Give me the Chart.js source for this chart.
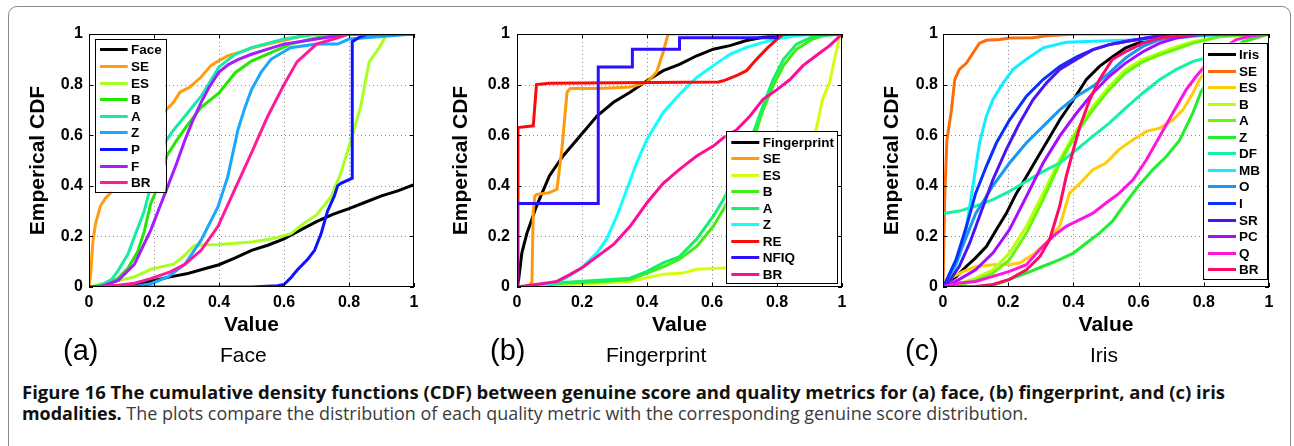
<!DOCTYPE html>
<html>
<head>
<meta charset="utf-8">
<script src="https://cdn.jsdelivr.net/npm/chart.js@4.4.0/dist/chart.umd.min.js"></script>
<style>
html, body { margin: 0; padding: 0; background: #fff; }
body { width: 1294px; height: 446px; position: relative; overflow: hidden; font-family: 'Liberation Sans', Arial, sans-serif; }
.frame { position: absolute; left: 8px; top: 6px; width: 1283px; height: 480px; border: 1px solid #8a8a8a; border-radius: 9px; box-sizing: border-box; }
.panel { position: absolute; top: 0; height: 345px; }
.tag { position: absolute; font-size: 29px; line-height: 29px; color: #000; white-space: nowrap; }
.name { position: absolute; font-size: 21px; line-height: 21px; color: #000; white-space: nowrap; }
.cap { position: absolute; left: 22px; font-family: 'Open Sans', 'Noto Sans', sans-serif; font-size: 17.5px; line-height: 17.5px; white-space: nowrap; transform-origin: 0 0; }
.cap b { font-weight: 700; color: #111; }
.cap span { color: #3a3a3a; }
</style>
</head>
<body>
<div class="frame"></div>
<div class="panel" style="left:0;width:430px"><canvas id="chartFace"></canvas></div>
<div class="panel" style="left:430px;width:430px"><canvas id="chartFinger"></canvas></div>
<div class="panel" style="left:860px;width:434px"><canvas id="chartIris"></canvas></div>

<div class="tag" style="left:63px;top:336px">(a)</div>
<div class="name" id="nameA" style="top:344px">Face</div>
<div class="tag" style="left:490px;top:336px">(b)</div>
<div class="name" id="nameB" style="top:344px">Fingerprint</div>
<div class="tag" style="left:905px;top:336px">(c)</div>
<div class="name" id="nameC" style="top:344px">Iris</div>

<div class="cap" id="cap1" style="top:384px"><b>Figure 16 The cumulative density functions (CDF) between genuine score and quality metrics for (a) face, (b) fingerprint, and (c) iris</b></div>
<div class="cap" id="cap2" style="top:405px"><b>modalities.</b><span> The plots compare the distribution of each quality metric with the corresponding genuine score distribution.</span></div>

<script>
// axis ticks shared by every panel
const tickValues = [0, 0.2, 0.4, 0.6, 0.8, 1];

// (a) Face - [value, cdf] pairs
const faceLabels = ['Face', 'SE', 'ES', 'B', 'A', 'Z', 'P', 'F', 'BR'];
const faceColors = ['#000000', '#ff9c12', '#aaff22', '#22e800', '#14eca8', '#18a8ff', '#0a14ff', '#a61cff', '#ff1a9c'];
const faceCurve = [[0,0],[0.05,0.002],[0.1,0.006],[0.15,0.013],[0.2,0.026],[0.25,0.04],[0.3,0.052],[0.35,0.07],[0.4,0.088],[0.45,0.115],[0.5,0.145],[0.55,0.165],[0.6,0.19],[0.65,0.225],[0.7,0.258],[0.75,0.287],[0.8,0.31],[0.85,0.335],[0.9,0.36],[0.95,0.38],[1,0.405]];
const faceSE = [[0,0],[0.005,0.05],[0.012,0.18],[0.02,0.25],[0.035,0.32],[0.05,0.35],[0.065,0.37],[0.08,0.4],[0.12,0.5],[0.16,0.58],[0.2,0.65],[0.23,0.69],[0.26,0.73],[0.28,0.77],[0.31,0.79],[0.345,0.83],[0.375,0.875],[0.4,0.895],[0.43,0.915],[0.47,0.93],[0.5,0.945],[0.55,0.96],[0.6,0.975],[0.65,0.99],[0.7,1],[1,1]];
const faceES = [[0,0],[0.03,0.01],[0.09,0.026],[0.14,0.04],[0.19,0.07],[0.26,0.09],[0.29,0.12],[0.325,0.165],[0.4,0.168],[0.5,0.178],[0.56,0.19],[0.62,0.21],[0.66,0.25],[0.7,0.285],[0.745,0.357],[0.775,0.45],[0.806,0.58],[0.836,0.714],[0.862,0.89],[0.89,0.94],[0.913,0.99],[0.93,1],[1,1]];
const faceB = [[0,0],[0.03,0.003],[0.06,0.012],[0.09,0.035],[0.12,0.075],[0.15,0.14],[0.17,0.22],[0.19,0.33],[0.21,0.39],[0.24,0.52],[0.27,0.58],[0.3,0.635],[0.345,0.71],[0.4,0.767],[0.45,0.847],[0.5,0.893],[0.56,0.926],[0.62,0.96],[0.7,0.985],[0.8,1],[1,1]];
const faceA = [[0,0],[0.02,0.003],[0.04,0.01],[0.07,0.03],[0.09,0.066],[0.12,0.13],[0.14,0.2],[0.17,0.3],[0.19,0.4],[0.21,0.48],[0.233,0.57],[0.26,0.62],[0.295,0.675],[0.345,0.754],[0.4,0.87],[0.45,0.92],[0.5,0.946],[0.6,0.98],[0.7,1],[1,1]];
const faceZ = [[0,0],[0.1,0.001],[0.15,0.004],[0.19,0.013],[0.243,0.04],[0.295,0.09],[0.345,0.185],[0.397,0.317],[0.427,0.436],[0.458,0.62],[0.48,0.71],[0.5,0.78],[0.53,0.85],[0.56,0.9],[0.62,0.946],[0.7,0.96],[0.765,0.96],[0.8,0.98],[0.9,0.99],[1,1]];
const faceP = [[0,0],[0.5,0],[0.58,0.005],[0.6,0.01],[0.62,0.035],[0.64,0.066],[0.673,0.11],[0.694,0.145],[0.714,0.21],[0.734,0.3],[0.755,0.36],[0.765,0.4],[0.775,0.41],[0.81,0.43],[0.81,0.97],[0.836,0.99],[0.86,1],[1,1]];
const faceF = [[0,0],[0.04,0.003],[0.09,0.026],[0.14,0.09],[0.19,0.225],[0.243,0.4],[0.27,0.49],[0.295,0.58],[0.32,0.66],[0.345,0.73],[0.37,0.79],[0.4,0.85],[0.43,0.88],[0.46,0.9],[0.5,0.92],[0.55,0.94],[0.6,0.96],[0.7,0.98],[0.8,1],[1,1]];
const faceBR = [[0,0],[0.09,0.007],[0.14,0.015],[0.19,0.033],[0.25,0.06],[0.295,0.09],[0.345,0.145],[0.397,0.24],[0.448,0.384],[0.5,0.53],[0.55,0.675],[0.6,0.8],[0.64,0.89],[0.7,0.96],[0.765,0.985],[0.8,1],[1,1]];

// (b) Fingerprint
const fpLabels = ['Fingerprint', 'SE', 'ES', 'B', 'A', 'Z', 'RE', 'NFIQ', 'BR'];
const fpColors = ['#000000', '#ff9a08', '#d2ff10', '#44ec14', '#14f06a', '#10ffff', '#ff0a0a', '#2a10ff', '#ff0c98'];
const fpCurve = [[0,0],[0.005,0.03],[0.015,0.135],[0.03,0.21],[0.06,0.32],[0.1,0.44],[0.143,0.52],[0.194,0.597],[0.246,0.676],[0.297,0.73],[0.348,0.77],[0.4,0.815],[0.45,0.855],[0.5,0.88],[0.553,0.914],[0.604,0.94],[0.655,0.954],[0.706,0.974],[0.757,0.987],[0.81,0.996],[0.85,1],[1,1]];
const fpSE = [[0,0],[0.036,0.003],[0.046,0.02],[0.05,0.3],[0.055,0.36],[0.061,0.366],[0.1,0.373],[0.123,0.386],[0.138,0.544],[0.154,0.77],[0.164,0.785],[0.246,0.785],[0.348,0.79],[0.4,0.81],[0.43,0.85],[0.45,0.93],[0.465,1],[1,1]];
const fpES = [[0,0],[0.04,0.001],[0.143,0.01],[0.246,0.014],[0.348,0.022],[0.45,0.05],[0.51,0.055],[0.553,0.07],[0.635,0.075],[0.7,0.09],[0.8,0.14],[0.87,0.25],[0.9,0.45],[0.92,0.62],[0.94,0.74],[0.962,0.81],[0.977,0.9],[0.993,0.99],[1,1]];
const fpB = [[0,0],[0.04,0.001],[0.143,0.016],[0.246,0.02],[0.348,0.03],[0.4,0.055],[0.45,0.08],[0.5,0.11],[0.553,0.16],[0.604,0.24],[0.635,0.306],[0.68,0.42],[0.737,0.62],[0.757,0.7],[0.788,0.795],[0.82,0.875],[0.86,0.94],[0.91,0.98],[0.95,0.996],[1,1]];
const fpA = [[0,0],[0.04,0.001],[0.143,0.018],[0.348,0.035],[0.4,0.062],[0.45,0.095],[0.5,0.12],[0.553,0.19],[0.604,0.28],[0.635,0.346],[0.68,0.46],[0.73,0.62],[0.757,0.716],[0.788,0.82],[0.82,0.9],[0.86,0.96],[0.91,0.99],[1,1]];
const fpZ = [[0,0],[0.04,0],[0.092,0.01],[0.143,0.03],[0.194,0.07],[0.246,0.135],[0.276,0.19],[0.307,0.28],[0.338,0.386],[0.368,0.49],[0.4,0.584],[0.45,0.69],[0.5,0.762],[0.553,0.828],[0.604,0.875],[0.655,0.92],[0.706,0.947],[0.757,0.967],[0.81,0.983],[0.86,0.993],[0.92,1],[1,1]];
const fpRE = [[0,0],[0.003,0.63],[0.05,0.637],[0.06,0.8],[0.1,0.805],[0.62,0.81],[0.635,0.815],[0.675,0.835],[0.706,0.855],[0.737,0.9],[0.767,0.94],[0.8,0.98],[0.82,1],[1,1]];
const fpNFIQ = [[0,0],[0,0.33],[0.25,0.33],[0.25,0.87],[0.355,0.87],[0.355,0.94],[0.5,0.94],[0.5,0.985],[0.8,0.985],[0.8,1],[1,1]];
const fpBR = [[0,0],[0.04,0.007],[0.092,0.016],[0.123,0.022],[0.164,0.05],[0.205,0.08],[0.246,0.12],[0.297,0.168],[0.348,0.24],[0.4,0.333],[0.45,0.41],[0.5,0.465],[0.553,0.518],[0.604,0.557],[0.635,0.59],[0.675,0.62],[0.717,0.676],[0.757,0.742],[0.8,0.78],[0.84,0.82],[0.88,0.875],[0.92,0.914],[0.962,0.954],[1,1]];

// (c) Iris
const irisLabels = ['Iris', 'SE', 'ES', 'B', 'A', 'Z', 'DF', 'MB', 'O', 'I', 'SR', 'PC', 'Q', 'BR'];
const irisColors = ['#000000', '#ff6a0a', '#ffcc0a', '#b8ff0a', '#66f80a', '#22ee30', '#14f4a0', '#10eeff', '#1898f4', '#0a30ff', '#4a14f4', '#a80cff', '#ff14e0', '#ff0a66'];
const irisCurve = [[0,0],[0.01,0.016],[0.04,0.04],[0.072,0.082],[0.1,0.115],[0.133,0.16],[0.164,0.227],[0.194,0.29],[0.225,0.37],[0.256,0.437],[0.286,0.503],[0.317,0.57],[0.358,0.66],[0.4,0.74],[0.44,0.82],[0.48,0.872],[0.52,0.91],[0.56,0.945],[0.6,0.965],[0.644,0.984],[0.685,0.993],[0.75,1],[1,1]];
const irisSE = [[0,0],[0.005,0.345],[0.012,0.58],[0.026,0.7],[0.036,0.82],[0.05,0.86],[0.072,0.885],[0.092,0.925],[0.112,0.964],[0.133,0.975],[0.174,0.978],[0.204,0.984],[0.276,0.985],[0.317,0.993],[0.41,1],[1,1]];
const irisES = [[0,0],[0.03,0.04],[0.06,0.06],[0.1,0.08],[0.153,0.088],[0.204,0.089],[0.235,0.095],[0.276,0.128],[0.317,0.174],[0.358,0.24],[0.388,0.37],[0.42,0.41],[0.46,0.464],[0.5,0.49],[0.54,0.543],[0.583,0.582],[0.624,0.615],[0.665,0.628],[0.705,0.66],[0.736,0.7],[0.767,0.767],[0.787,0.82],[0.85,0.93],[0.95,0.98],[1,1]];
const irisB = [[0,0],[0.03,0.005],[0.1,0.035],[0.153,0.068],[0.204,0.134],[0.256,0.24],[0.307,0.37],[0.358,0.503],[0.41,0.62],[0.46,0.714],[0.51,0.793],[0.56,0.86],[0.613,0.9],[0.665,0.925],[0.716,0.95],[0.767,0.97],[0.85,0.99],[1,1]];
const irisA = [[0,0],[0.05,0.008],[0.1,0.025],[0.153,0.055],[0.204,0.108],[0.256,0.213],[0.307,0.345],[0.358,0.49],[0.41,0.61],[0.46,0.7],[0.51,0.78],[0.56,0.846],[0.613,0.89],[0.665,0.918],[0.716,0.94],[0.767,0.964],[0.85,0.99],[1,1]];
const irisZ = [[0,0],[0.133,0],[0.174,0.016],[0.204,0.03],[0.256,0.055],[0.307,0.082],[0.358,0.108],[0.4,0.134],[0.44,0.174],[0.48,0.213],[0.52,0.26],[0.56,0.332],[0.6,0.4],[0.644,0.464],[0.685,0.516],[0.726,0.58],[0.767,0.69],[0.79,0.767],[0.85,0.9],[0.92,0.97],[1,1]];
const irisDF = [[0,0.29],[0.05,0.3],[0.1,0.32],[0.153,0.345],[0.204,0.378],[0.256,0.418],[0.307,0.457],[0.358,0.49],[0.41,0.543],[0.46,0.596],[0.51,0.648],[0.56,0.707],[0.613,0.767],[0.665,0.82],[0.716,0.86],[0.767,0.892],[0.85,0.92],[0.92,0.94],[1,0.96]];
const irisMB = [[0,0],[0.005,0.01],[0.03,0.055],[0.05,0.12],[0.072,0.24],[0.092,0.4],[0.112,0.57],[0.133,0.675],[0.153,0.74],[0.184,0.806],[0.215,0.86],[0.256,0.9],[0.307,0.945],[0.378,0.967],[0.46,0.971],[0.56,0.975],[0.665,0.98],[0.767,0.99],[0.85,1],[1,1]];
const irisO = [[0,0],[0.005,0.01],[0.04,0.095],[0.072,0.2],[0.1,0.29],[0.153,0.4],[0.204,0.49],[0.256,0.57],[0.307,0.635],[0.358,0.7],[0.41,0.754],[0.46,0.793],[0.51,0.846],[0.56,0.905],[0.613,0.951],[0.665,0.978],[0.75,0.995],[1,1]];
const irisI = [[0,0],[0.005,0.01],[0.04,0.108],[0.072,0.24],[0.1,0.37],[0.133,0.477],[0.164,0.57],[0.204,0.66],[0.256,0.754],[0.307,0.82],[0.358,0.872],[0.41,0.91],[0.46,0.938],[0.51,0.958],[0.56,0.97],[0.624,0.984],[0.7,1],[1,1]];
const irisSR = [[0,0],[0.01,0.005],[0.05,0.082],[0.082,0.174],[0.112,0.28],[0.153,0.424],[0.194,0.543],[0.235,0.648],[0.276,0.74],[0.317,0.806],[0.358,0.86],[0.41,0.9],[0.46,0.938],[0.51,0.958],[0.56,0.97],[0.624,0.984],[0.7,1],[1,1]];
const irisPC = [[0,0],[0.01,0.003],[0.05,0.03],[0.1,0.068],[0.153,0.134],[0.204,0.227],[0.256,0.358],[0.307,0.49],[0.358,0.596],[0.41,0.688],[0.46,0.767],[0.51,0.833],[0.56,0.885],[0.613,0.93],[0.665,0.964],[0.716,0.984],[0.8,1],[1,1]];
const irisQ = [[0,0],[0.01,0.005],[0.05,0.016],[0.1,0.022],[0.153,0.042],[0.204,0.062],[0.256,0.088],[0.297,0.148],[0.337,0.2],[0.378,0.24],[0.42,0.266],[0.46,0.292],[0.5,0.332],[0.54,0.37],[0.583,0.424],[0.624,0.503],[0.665,0.596],[0.705,0.688],[0.746,0.78],[0.777,0.833],[0.84,0.93],[0.9,0.978],[0.95,0.993],[1,1]];
const irisBR = [[0,0],[0.1,0.002],[0.153,0.01],[0.204,0.03],[0.256,0.068],[0.297,0.12],[0.327,0.187],[0.358,0.32],[0.378,0.437],[0.4,0.543],[0.42,0.635],[0.45,0.74],[0.48,0.82],[0.52,0.9],[0.56,0.93],[0.613,0.964],[0.665,0.984],[0.716,0.993],[0.8,1],[1,1]];

const faceSeries = [faceCurve, faceSE, faceES, faceB, faceA, faceZ, faceP, faceF, faceBR];
const fpSeries = [fpCurve, fpSE, fpES, fpB, fpA, fpZ, fpRE, fpNFIQ, fpBR];
const irisSeries = [irisCurve, irisSE, irisES, irisB, irisA, irisZ, irisDF, irisMB, irisO, irisI, irisSR, irisPC, irisQ, irisBR];

const FONT = "'Liberation Sans', Arial, sans-serif";

// dotted grid, boxed axes with inward ticks, and the boxed legend (matlab look)
const matlabAxes = {
    id: 'matlabAxes',
    beforeDatasetsDraw(chart) {
        const {ctx, chartArea: a, scales: {x, y}} = chart;
        ctx.save();
        ctx.strokeStyle = '#8c8c8c';
        ctx.lineWidth = 1;
        ctx.setLineDash([1, 3]);
        tickValues.slice(1, -1).forEach(v => {
            const px = Math.round(x.getPixelForValue(v)) + 0.5;
            const py = Math.round(y.getPixelForValue(v)) + 0.5;
            ctx.beginPath();
            ctx.moveTo(px, a.top); ctx.lineTo(px, a.bottom);
            ctx.moveTo(a.left, py); ctx.lineTo(a.right, py);
            ctx.stroke();
        });
        ctx.restore();
    },
    afterDatasetsDraw(chart) {
        const {ctx, chartArea: a, scales: {x, y}} = chart;
        ctx.save();
        ctx.strokeStyle = '#000';
        ctx.lineWidth = 1;
        ctx.strokeRect(Math.round(a.left) + 0.5, Math.round(a.top) + 0.5, Math.round(a.width) - 1, Math.round(a.height) - 1);
        ctx.beginPath();
        tickValues.forEach(v => {
            const px = Math.round(x.getPixelForValue(v)) + 0.5;
            const py = Math.round(y.getPixelForValue(v)) + 0.5;
            ctx.moveTo(px, a.bottom); ctx.lineTo(px, a.bottom - 4);
            ctx.moveTo(px, a.top); ctx.lineTo(px, a.top + 4);
            ctx.moveTo(a.left, py); ctx.lineTo(a.left + 4, py);
            ctx.moveTo(a.right, py); ctx.lineTo(a.right - 4, py);
        });
        ctx.stroke();
        ctx.restore();
    },
    afterDraw(chart, args, opts) {
        const {ctx, chartArea: a} = chart;
        const L = opts.legend;
        if (!L) return;
        // box position is relative to the plot area, row contents relative to the box
        const bx = a.left + L.x, by = a.top + L.y;
        ctx.save();
        ctx.fillStyle = '#fff';
        ctx.fillRect(bx, by, L.w, L.h);
        ctx.strokeStyle = '#000';
        ctx.lineWidth = 1;
        ctx.strokeRect(Math.round(bx) + 0.5, Math.round(by) + 0.5, Math.round(L.w), Math.round(L.h));
        ctx.font = 'bold 13.5px ' + FONT;
        ctx.textBaseline = 'middle';
        ctx.textAlign = 'left';
        chart.data.datasets.forEach((ds, i) => {
            const ry = Math.round(by + L.first + i * L.row) + 0.5;
            ctx.strokeStyle = ds.borderColor;
            ctx.lineWidth = 3;
            ctx.beginPath();
            ctx.moveTo(bx + L.line0, ry);
            ctx.lineTo(bx + L.line1, ry);
            ctx.stroke();
            ctx.fillStyle = '#000';
            ctx.fillText(ds.label, bx + L.text, ry + 0.5);
        });
        ctx.restore();
    }
};

function makePanel(canvasId, labels, colors, series, layout) {
    const datasets = series.map((s, i) => ({
        label: labels[i],
        data: s.map(p => ({x: p[0], y: p[1]})),
        borderColor: colors[i],
        backgroundColor: colors[i],
        borderWidth: 3,
        pointRadius: 0,
        tension: 0,
        fill: false,
        order: -i
    }));
    const tickFmt = v => String(Math.round(v * 10) / 10);
    return new Chart(document.getElementById(canvasId), {
        type: 'line',
        data: {datasets},
        plugins: [matlabAxes],
        options: {
            responsive: true,
            maintainAspectRatio: false,
            animation: false,
            events: [],
            layout: {padding: {top: 34, right: layout.padRight, bottom: 0, left: 0}},
            plugins: {
                legend: {display: false},
                tooltip: {enabled: false},
                matlabAxes: {legend: layout.legend}
            },
            scales: {
                x: {
                    type: 'linear', min: 0, max: 1,
                    grid: {display: false, drawTicks: false},
                    border: {display: false},
                    afterBuildTicks: s => { s.ticks = tickValues.map(v => ({value: v})); },
                    afterFit: s => { s.height = 58; },
                    ticks: {
                        padding: 6, maxRotation: 0, autoSkip: false, color: '#000',
                        font: {family: FONT, size: 16, weight: 'bold'},
                        callback: tickFmt
                    },
                    title: {
                        display: true, text: 'Value', color: '#000',
                        font: {family: FONT, size: 21, weight: 'bold'},
                        padding: {top: 0, bottom: 7}
                    }
                },
                y: {
                    type: 'linear', min: 0, max: 1,
                    grid: {display: false, drawTicks: false},
                    border: {display: false},
                    afterBuildTicks: s => { s.ticks = tickValues.map(v => ({value: v})); },
                    afterFit: s => { s.width = layout.axisWidth; },
                    ticks: {
                        padding: layout.tickPad, autoSkip: false, color: '#000',
                        font: {family: FONT, size: 16, weight: 'bold'},
                        callback: tickFmt
                    },
                    title: {
                        display: true, text: 'Emperical CDF', color: '#000',
                        font: {family: FONT, size: 21, weight: 'bold'},
                        padding: {top: layout.titlePad, bottom: 0}
                    }
                }
            }
        }
    });
}

makePanel('chartFace', faceLabels, faceColors, faceSeries, {
    axisWidth: 89, padRight: 16, tickPad: 6, titlePad: 25.4,
    legend: {x: 5.7, y: 5, w: 70.6, h: 152.7, first: 10.3, row: 16.6, line0: 5.3, line1: 33, text: 36.3}
});
makePanel('chartFinger', fpLabels, fpColors, fpSeries, {
    axisWidth: 87, padRight: 18, tickPad: 7, titlePad: 19.1,
    legend: {x: 208.7, y: 97, w: 111.3, h: 151.7, first: 10.7, row: 16.5, line0: 5.6, line1: 33.6, text: 37}
});
makePanel('chartIris', irisLabels, irisColors, irisSeries, {
    axisWidth: 83, padRight: 25, tickPad: 5, titlePad: 19.4,
    legend: {x: 259.7, y: 8.7, w: 64, h: 235.6, first: 11.3, row: 16.56, line0: 5.3, line1: 33.3, text: 36.3}
});

// centre the panel names under each plot and fit the caption lines to their printed widths
function centreAt(id, cx) {
    const el = document.getElementById(id);
    el.style.left = (cx - el.offsetWidth / 2) + 'px';
}
function fitWidth(id, target) {
    const el = document.getElementById(id);
    const w = el.getBoundingClientRect().width;
    el.style.transform = 'scaleX(' + (target / w) + ')';
}
centreAt('nameA', 243.5);
centreAt('nameB', 656);
centreAt('nameC', 1104);
fitWidth('cap1', 1203);
fitWidth('cap2', 1006);
</script>
</body>
</html>
